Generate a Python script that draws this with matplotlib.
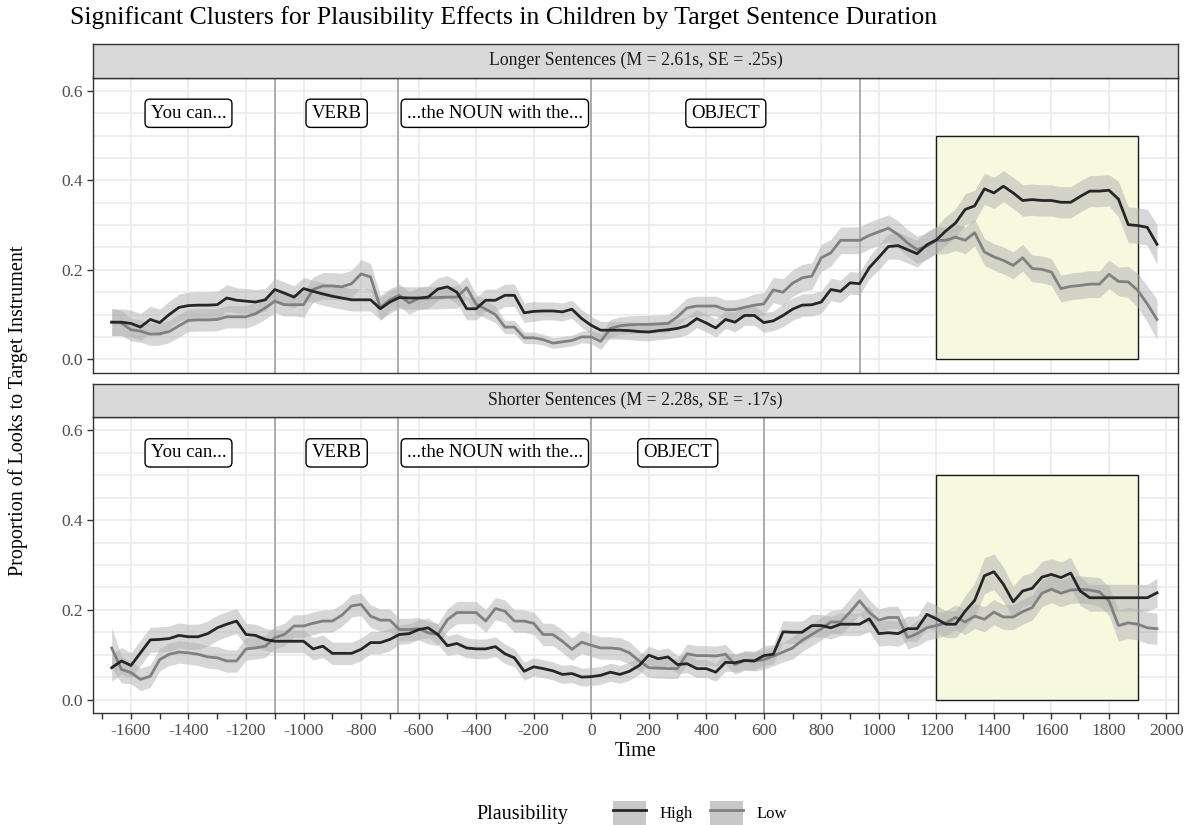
import matplotlib.pyplot as plt
from matplotlib.patches import Patch, Rectangle
from matplotlib.lines import Line2D
from matplotlib.legend_handler import HandlerTuple

plt.rcParams['font.family'] = ['Liberation Serif', 'DejaVu Serif']
plt.rcParams['axes.unicode_minus'] = False

# time bins (ms, 30 Hz frames)
time_ms = [
    -1667, -1633, -1600, -1567, -1533, -1500, -1467, -1433, -1400, -1367,
    -1333, -1300, -1267, -1233, -1200, -1167, -1133, -1100, -1067, -1033,
    -1000, -967, -933, -900, -867, -833, -800, -767, -733, -700,
    -667, -633, -600, -567, -533, -500, -467, -433, -400, -367,
    -333, -300, -267, -233, -200, -167, -133, -100, -67, -33,
    0, 33, 67, 100, 133, 167, 200, 233, 267, 300,
    333, 367, 400, 433, 467, 500, 533, 567, 600, 633,
    667, 700, 733, 767, 800, 833, 867, 900, 933, 967,
    1000, 1033, 1067, 1100, 1133, 1167, 1200, 1233, 1267, 1300,
    1333, 1367, 1400, 1433, 1467, 1500, 1533, 1567, 1600, 1633,
    1667, 1700, 1733, 1767, 1800, 1833, 1867, 1900, 1933, 1967,
]

# longer sentences
long_high = [
    0.083, 0.083, 0.080, 0.072, 0.089, 0.082, 0.100, 0.116, 0.120, 0.121,
    0.121, 0.122, 0.137, 0.132, 0.130, 0.128, 0.133, 0.156, 0.148, 0.139,
    0.158, 0.152, 0.146, 0.141, 0.137, 0.133, 0.133, 0.133, 0.113, 0.128,
    0.138, 0.137, 0.137, 0.139, 0.157, 0.162, 0.150, 0.113, 0.113, 0.132,
    0.132, 0.143, 0.143, 0.104, 0.107, 0.108, 0.108, 0.106, 0.112, 0.091,
    0.076, 0.065, 0.065, 0.065, 0.064, 0.062, 0.061, 0.064, 0.066, 0.069,
    0.075, 0.091, 0.081, 0.070, 0.089, 0.083, 0.098, 0.098, 0.082, 0.086,
    0.098, 0.112, 0.121, 0.122, 0.128, 0.156, 0.152, 0.171, 0.169, 0.205,
    0.228, 0.252, 0.254, 0.245, 0.236, 0.256, 0.267, 0.287, 0.305, 0.335,
    0.343, 0.381, 0.372, 0.387, 0.372, 0.355, 0.357, 0.355, 0.355, 0.351,
    0.351, 0.364, 0.376, 0.376, 0.378, 0.358, 0.301, 0.299, 0.295, 0.257,
]
long_high_se = [
    0.030, 0.030, 0.030, 0.030, 0.030, 0.030, 0.030, 0.030, 0.030, 0.030,
    0.030, 0.030, 0.030, 0.028, 0.028, 0.028, 0.025, 0.025, 0.025, 0.025,
    0.025, 0.025, 0.025, 0.025, 0.025, 0.025, 0.025, 0.025, 0.025, 0.025,
    0.025, 0.025, 0.025, 0.025, 0.025, 0.025, 0.025, 0.025, 0.025, 0.025,
    0.025, 0.025, 0.025, 0.022, 0.022, 0.020, 0.020, 0.020, 0.020, 0.020,
    0.020, 0.020, 0.020, 0.020, 0.020, 0.020, 0.020, 0.020, 0.020, 0.020,
    0.020, 0.020, 0.020, 0.020, 0.020, 0.022, 0.022, 0.022, 0.022, 0.022,
    0.025, 0.025, 0.025, 0.025, 0.025, 0.025, 0.025, 0.025, 0.025, 0.025,
    0.028, 0.028, 0.030, 0.030, 0.030, 0.030, 0.030, 0.032, 0.032, 0.035,
    0.035, 0.035, 0.035, 0.035, 0.035, 0.035, 0.035, 0.035, 0.035, 0.035,
    0.035, 0.035, 0.035, 0.035, 0.035, 0.040, 0.040, 0.040, 0.040, 0.045,
]
long_low = [
    0.083, 0.081, 0.066, 0.063, 0.056, 0.057, 0.062, 0.075, 0.087, 0.088,
    0.088, 0.089, 0.095, 0.095, 0.095, 0.102, 0.115, 0.130, 0.122, 0.122,
    0.122, 0.156, 0.164, 0.164, 0.162, 0.169, 0.191, 0.184, 0.115, 0.133,
    0.143, 0.126, 0.136, 0.137, 0.138, 0.139, 0.139, 0.160, 0.123, 0.112,
    0.100, 0.072, 0.072, 0.048, 0.048, 0.044, 0.036, 0.039, 0.042, 0.050,
    0.050, 0.040, 0.069, 0.075, 0.077, 0.078, 0.078, 0.079, 0.080, 0.095,
    0.115, 0.119, 0.119, 0.119, 0.111, 0.111, 0.116, 0.121, 0.124, 0.155,
    0.150, 0.170, 0.182, 0.186, 0.227, 0.238, 0.266, 0.266, 0.266, 0.277,
    0.285, 0.293, 0.279, 0.260, 0.245, 0.253, 0.266, 0.266, 0.273, 0.266,
    0.283, 0.240, 0.229, 0.221, 0.210, 0.227, 0.203, 0.201, 0.195, 0.158,
    0.163, 0.165, 0.168, 0.168, 0.190, 0.174, 0.173, 0.154, 0.124, 0.089,
]
long_low_se = [
    0.030, 0.028, 0.025, 0.025, 0.025, 0.025, 0.025, 0.025, 0.025, 0.025,
    0.025, 0.025, 0.025, 0.025, 0.025, 0.025, 0.025, 0.025, 0.025, 0.025,
    0.028, 0.028, 0.030, 0.030, 0.030, 0.030, 0.032, 0.030, 0.028, 0.025,
    0.025, 0.025, 0.025, 0.025, 0.025, 0.025, 0.025, 0.025, 0.022, 0.020,
    0.018, 0.015, 0.015, 0.013, 0.013, 0.012, 0.012, 0.012, 0.012, 0.013,
    0.015, 0.018, 0.020, 0.020, 0.020, 0.020, 0.020, 0.020, 0.020, 0.022,
    0.022, 0.022, 0.022, 0.022, 0.022, 0.022, 0.022, 0.025, 0.025, 0.028,
    0.030, 0.030, 0.030, 0.030, 0.030, 0.030, 0.030, 0.030, 0.030, 0.030,
    0.030, 0.030, 0.030, 0.030, 0.030, 0.030, 0.030, 0.030, 0.030, 0.030,
    0.030, 0.030, 0.030, 0.030, 0.030, 0.030, 0.030, 0.030, 0.030, 0.030,
    0.030, 0.030, 0.030, 0.030, 0.032, 0.032, 0.035, 0.038, 0.040, 0.045,
]

# shorter sentences
short_high = [
    0.071, 0.086, 0.076, 0.104, 0.133, 0.134, 0.136, 0.143, 0.140, 0.140,
    0.147, 0.160, 0.168, 0.175, 0.145, 0.143, 0.134, 0.130, 0.130, 0.130,
    0.130, 0.113, 0.119, 0.103, 0.103, 0.103, 0.112, 0.127, 0.127, 0.134,
    0.145, 0.147, 0.156, 0.160, 0.145, 0.120, 0.125, 0.115, 0.113, 0.113,
    0.118, 0.102, 0.093, 0.063, 0.073, 0.069, 0.064, 0.056, 0.058, 0.050,
    0.051, 0.054, 0.061, 0.056, 0.063, 0.076, 0.099, 0.091, 0.095, 0.078,
    0.080, 0.069, 0.069, 0.061, 0.083, 0.082, 0.087, 0.086, 0.098, 0.101,
    0.151, 0.150, 0.150, 0.165, 0.165, 0.160, 0.168, 0.168, 0.168, 0.180,
    0.147, 0.149, 0.147, 0.158, 0.158, 0.190, 0.180, 0.168, 0.168, 0.197,
    0.221, 0.276, 0.285, 0.257, 0.218, 0.242, 0.248, 0.273, 0.279, 0.272,
    0.282, 0.242, 0.227, 0.227, 0.227, 0.227, 0.227, 0.227, 0.227, 0.238,
]
short_high_se = [
    0.030, 0.030, 0.028, 0.028, 0.028, 0.028, 0.028, 0.028, 0.028, 0.028,
    0.028, 0.028, 0.028, 0.028, 0.025, 0.025, 0.025, 0.025, 0.025, 0.025,
    0.025, 0.025, 0.025, 0.025, 0.025, 0.025, 0.025, 0.025, 0.025, 0.025,
    0.022, 0.022, 0.022, 0.022, 0.022, 0.022, 0.022, 0.022, 0.022, 0.022,
    0.022, 0.022, 0.020, 0.020, 0.020, 0.020, 0.020, 0.020, 0.020, 0.020,
    0.020, 0.020, 0.020, 0.020, 0.020, 0.020, 0.020, 0.020, 0.020, 0.020,
    0.020, 0.020, 0.020, 0.020, 0.020, 0.020, 0.020, 0.020, 0.022, 0.022,
    0.025, 0.025, 0.025, 0.025, 0.025, 0.025, 0.025, 0.025, 0.025, 0.028,
    0.028, 0.028, 0.028, 0.028, 0.028, 0.030, 0.030, 0.030, 0.030, 0.035,
    0.038, 0.040, 0.040, 0.038, 0.035, 0.035, 0.035, 0.035, 0.035, 0.035,
    0.035, 0.032, 0.030, 0.030, 0.030, 0.030, 0.030, 0.030, 0.030, 0.032,
]
short_low = [
    0.115, 0.067, 0.060, 0.045, 0.052, 0.089, 0.101, 0.106, 0.104, 0.101,
    0.095, 0.093, 0.086, 0.086, 0.113, 0.115, 0.119, 0.138, 0.145, 0.164,
    0.164, 0.170, 0.175, 0.175, 0.188, 0.209, 0.212, 0.186, 0.177, 0.177,
    0.156, 0.156, 0.158, 0.149, 0.145, 0.178, 0.194, 0.194, 0.194, 0.175,
    0.203, 0.197, 0.175, 0.175, 0.170, 0.145, 0.145, 0.130, 0.112, 0.128,
    0.121, 0.115, 0.115, 0.113, 0.104, 0.086, 0.071, 0.070, 0.069, 0.069,
    0.102, 0.098, 0.098, 0.097, 0.101, 0.078, 0.087, 0.086, 0.089, 0.097,
    0.106, 0.115, 0.132, 0.145, 0.158, 0.173, 0.173, 0.195, 0.220, 0.194,
    0.177, 0.183, 0.183, 0.138, 0.147, 0.160, 0.165, 0.171, 0.183, 0.173,
    0.186, 0.179, 0.195, 0.184, 0.184, 0.196, 0.205, 0.237, 0.246, 0.237,
    0.244, 0.246, 0.244, 0.240, 0.220, 0.165, 0.171, 0.168, 0.160, 0.158,
]
short_low_se = [
    0.045, 0.030, 0.025, 0.025, 0.025, 0.025, 0.025, 0.025, 0.025, 0.025,
    0.025, 0.025, 0.025, 0.025, 0.025, 0.025, 0.025, 0.025, 0.025, 0.025,
    0.025, 0.025, 0.025, 0.025, 0.025, 0.025, 0.025, 0.025, 0.025, 0.025,
    0.025, 0.025, 0.025, 0.025, 0.025, 0.025, 0.025, 0.025, 0.025, 0.025,
    0.025, 0.025, 0.025, 0.025, 0.025, 0.025, 0.025, 0.025, 0.025, 0.025,
    0.025, 0.025, 0.025, 0.025, 0.025, 0.022, 0.022, 0.022, 0.022, 0.022,
    0.022, 0.022, 0.022, 0.022, 0.022, 0.022, 0.022, 0.022, 0.022, 0.022,
    0.022, 0.025, 0.025, 0.025, 0.025, 0.025, 0.028, 0.030, 0.030, 0.028,
    0.025, 0.025, 0.025, 0.025, 0.028, 0.028, 0.028, 0.028, 0.028, 0.028,
    0.028, 0.028, 0.028, 0.028, 0.028, 0.028, 0.028, 0.030, 0.030, 0.030,
    0.030, 0.030, 0.030, 0.032, 0.032, 0.035, 0.035, 0.035, 0.035, 0.035,
]

phase_labels = ["You can...", "VERB", "...the NOUN with the...", "OBJECT"]
phase_start = -1700
long_bounds = [-1100, -670, 0, 936]
short_bounds = [-1100, -670, 0, 602]
cluster_start, cluster_end, cluster_top = 1200, 1900, 0.5

panels = [
    ("Longer Sentences (M = 2.61s, SE = .25s)", long_high, long_high_se,
     long_low, long_low_se, long_bounds),
    ("Shorter Sentences (M = 2.28s, SE = .17s)", short_high, short_high_se,
     short_low, short_low_se, short_bounds),
]

high_color = '#262626'
low_color = '#808080'
band_color = '#b0b0b0'

fig = plt.figure(figsize=(11.93, 8.25), dpi=100)

W, H = 1193, 825
left, right = 93, 1178
panel_px = [(44, 77.5, 372.7), (384, 417, 713)]  # strip top, panel top, panel bottom

for i, (strip_txt, hi, hi_se, lo, lo_se, bounds) in enumerate(panels):
    s_top, p_top, p_bot = panel_px[i]
    ax = fig.add_axes([left / W, 1 - p_bot / H, (right - left) / W, (p_bot - p_top) / H])
    sx = fig.add_axes([left / W, 1 - p_top / H, (right - left) / W, (p_top - s_top) / H])

    # strip
    sx.set_facecolor('#d9d9d9')
    sx.set_xticks([])
    sx.set_yticks([])
    for sp in sx.spines.values():
        sp.set_color('#333333')
        sp.set_linewidth(1.0)
    sx.text(0.5, 0.5, strip_txt, ha='center', va='center', fontsize=12.8,
            color='#1a1a1a', transform=sx.transAxes)

    ax.set_xlim(-1732, 2040)
    ax.set_ylim(-0.03, 0.63)

    # grid
    for g in range(-1600, 2001, 200):
        ax.axvline(g, color='#ebebeb', lw=1.2, zorder=0)
    for k in range(13):
        ax.axhline(k * 0.05, color='#ebebeb', lw=1.2, zorder=0)

    # significant cluster window
    ax.add_patch(Rectangle((cluster_start, 0), cluster_end - cluster_start, cluster_top,
                           facecolor='#f7f9df', edgecolor='#1a1a1a', lw=1.0, zorder=1))

    # phase boundaries
    for b in bounds:
        ax.axvline(b, color='#a6a6a6', lw=1.3, zorder=1.5)

    # phase labels
    edges = [phase_start] + bounds
    for lab, a, b in zip(phase_labels, edges[:-1], edges[1:]):
        ax.text((a + b) / 2, 0.55, lab, ha='center', va='center', fontsize=13.5,
                color='black', zorder=5,
                bbox=dict(boxstyle='round,pad=0.3,rounding_size=0.25',
                          fc='white', ec='black', lw=1.0))

    # ribbons and lines
    for vals, se, col in [(hi, hi_se, high_color), (lo, lo_se, low_color)]:
        lower = [v - s for v, s in zip(vals, se)]
        upper = [v + s for v, s in zip(vals, se)]
        ax.fill_between(time_ms, lower, upper, color=band_color, alpha=0.5,
                        lw=0, zorder=2)
    ax.plot(time_ms, lo, color=low_color, lw=2.0, zorder=3)
    ax.plot(time_ms, hi, color=high_color, lw=2.0, zorder=3.5)

    for sp in ax.spines.values():
        sp.set_color('#333333')
        sp.set_linewidth(1.0)

    ax.set_yticks([0.0, 0.2, 0.4, 0.6])
    ax.set_yticklabels(['0.0', '0.2', '0.4', '0.6'])
    ax.tick_params(axis='both', direction='out', length=4, width=1.0,
                   color='#333333', labelcolor='#4d4d4d', labelsize=12.5)
    if i == 0:
        ax.set_xticks([])
    else:
        ax.set_xticks(list(range(-1600, 2001, 200)))
        ax.set_xticks(list(range(-1700, 2001, 200)), minor=True)
        ax.tick_params(axis='x', which='minor', direction='out', length=4,
                       width=1.0, color='#333333')

fig.text(70 / W, 1 - 18 / H,
         "Significant Clusters for Plausibility Effects in Children by Target Sentence Duration",
         ha='left', va='center', fontsize=18.5, color='black')
fig.text(18 / W, 1 - 411 / H, "Proportion of Looks to Target Instrument",
         rotation=90, ha='center', va='center', fontsize=14.5)
fig.text(636 / W, 1 - 752 / H, "Time", ha='center', va='center', fontsize=14.5)

# legend
fig.text(522 / W, 1 - 814 / H, "Plausibility", ha='center', va='center', fontsize=14.5)
handles = [
    (Patch(facecolor='#c8c8c8', edgecolor='none'), Line2D([], [], color=high_color, lw=2.0)),
    (Patch(facecolor='#c8c8c8', edgecolor='none'), Line2D([], [], color=low_color, lw=2.0)),
]
fig.legend(handles, ['High', 'Low'], handler_map={tuple: HandlerTuple(ndivide=1, pad=0)},
           ncol=2, loc='center left', bbox_to_anchor=(598 / W, 1 - 813 / H),
           frameon=False, fontsize=12, handlelength=2.0, handleheight=1.8,
           columnspacing=1.0, handletextpad=0.8)

fig.savefig('out.png', dpi=100)
